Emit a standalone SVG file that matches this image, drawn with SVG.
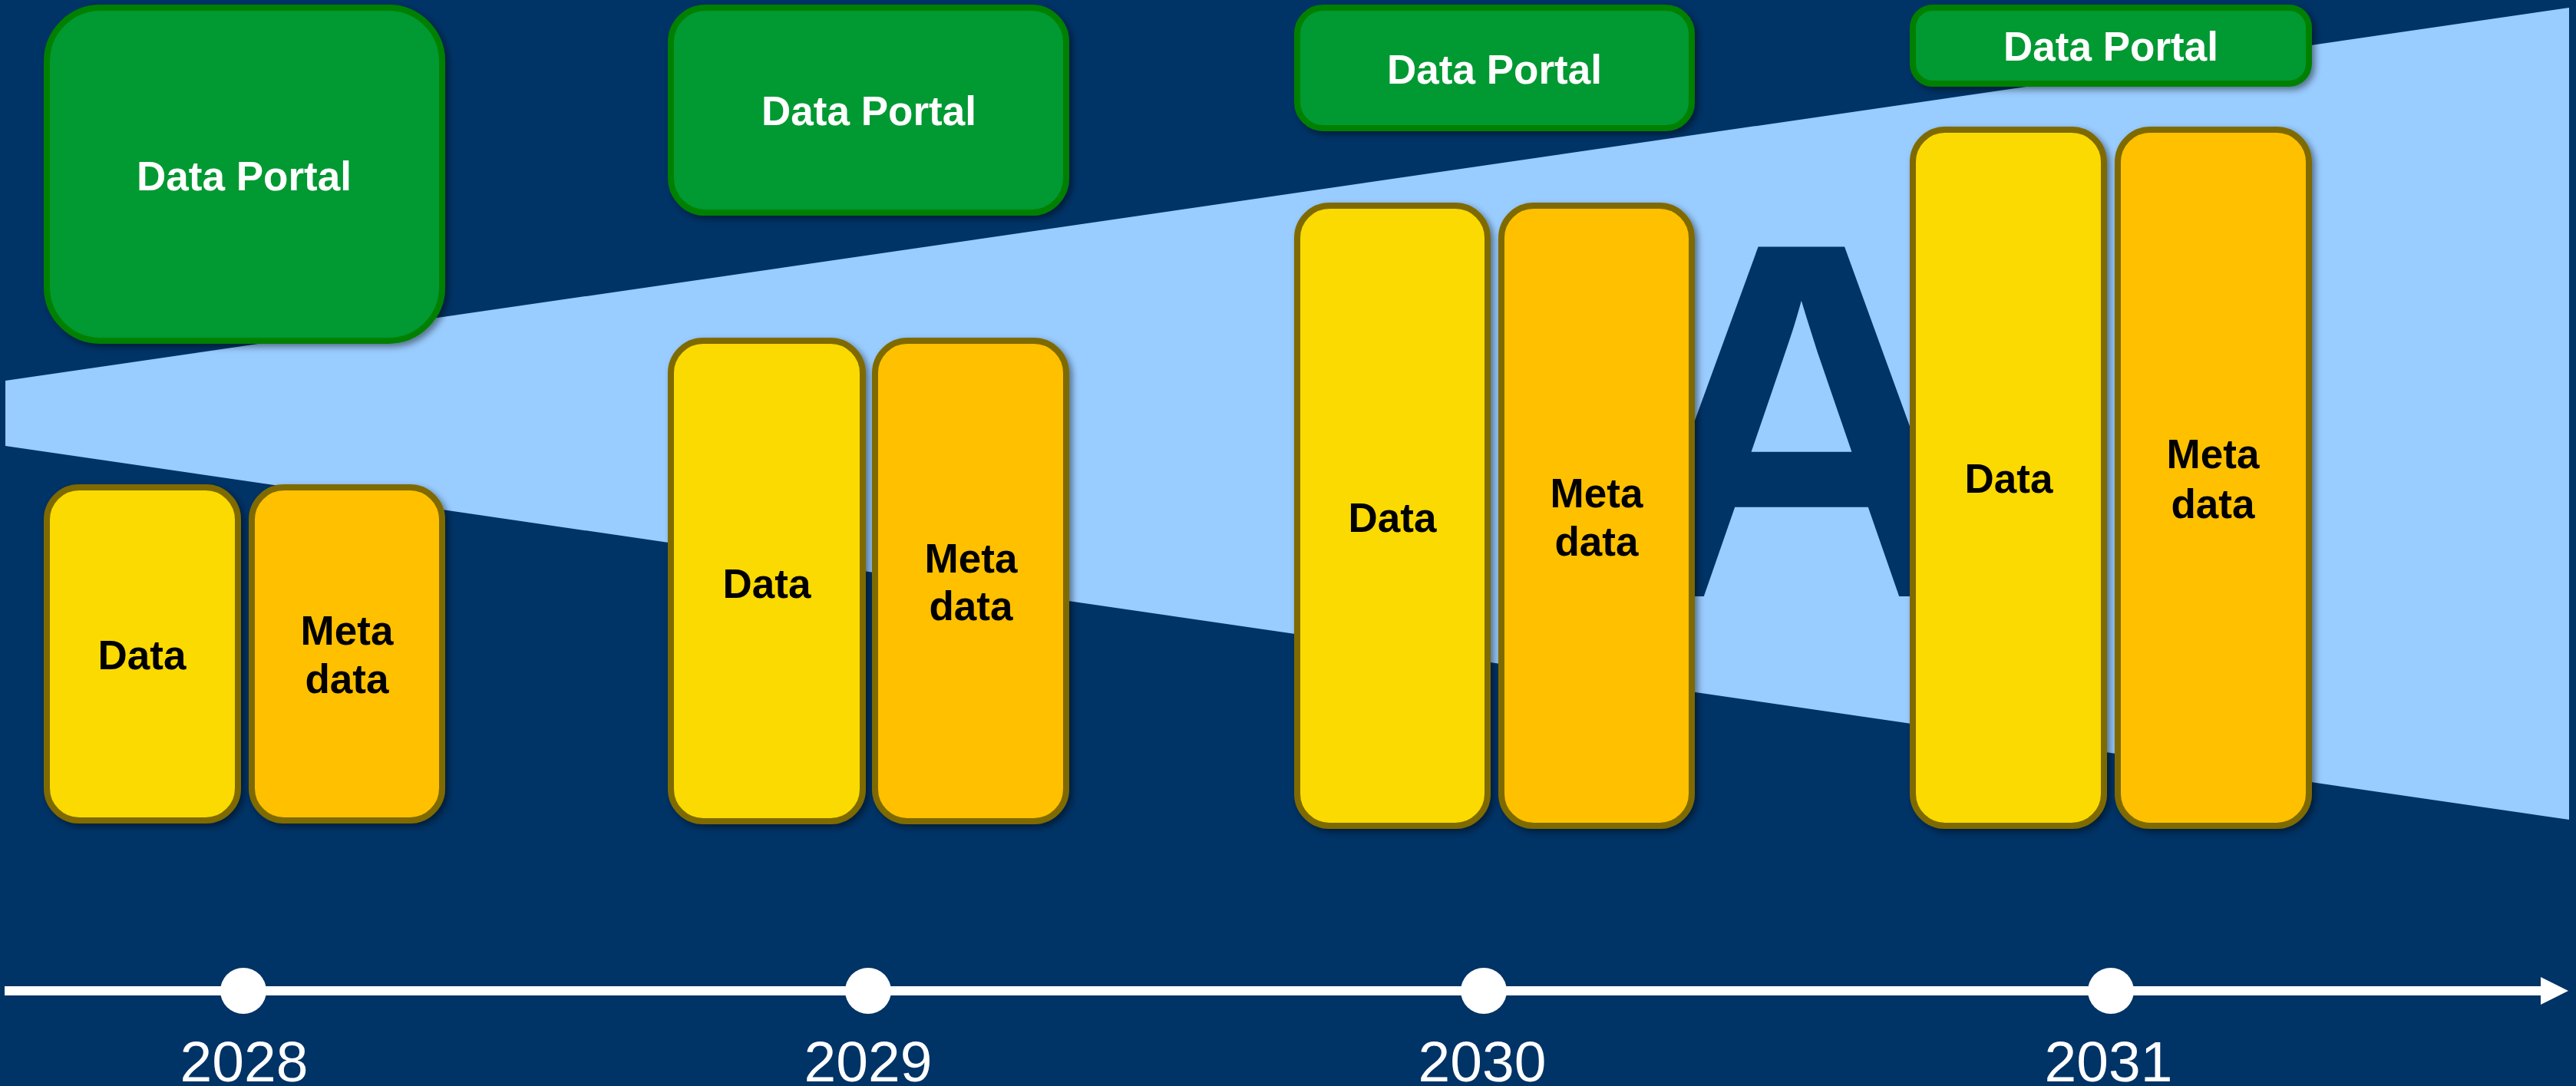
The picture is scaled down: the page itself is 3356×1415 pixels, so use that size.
<svg xmlns="http://www.w3.org/2000/svg" width="3356" height="1415" viewBox="0 0 3356 1415">
<style>
.portal{fill:#009933;stroke:#008000;stroke-width:8;filter:url(#sh)}
.data{fill:#FADA00;stroke:#7F6B00;stroke-width:8;filter:url(#sh)}
.meta{fill:#FFC000;stroke:#7F6B00;stroke-width:8;filter:url(#sh)}
.pt{font-family:"Liberation Sans",Arial,sans-serif;font-weight:bold;font-size:53px;fill:#FFFFFF;text-anchor:middle}
.bt{font-family:"Liberation Sans",Arial,sans-serif;font-weight:bold;font-size:53px;fill:#000000;text-anchor:middle}
.yr{font-family:"Liberation Sans",Arial,sans-serif;font-size:75px;fill:#FFFFFF;text-anchor:middle}
</style>
<defs>
<filter id="sh" x="-10%" y="-10%" width="130%" height="130%">
<feDropShadow dx="4" dy="4" stdDeviation="4" flood-color="#000000" flood-opacity="0.45"/>
</filter>
</defs>
<rect x="0" y="0" width="3356" height="1415" fill="#003366"/>
<polygon points="7,496 3347,10 3347,1068 7,581" fill="#99CCFF"/>
<text x="2347" y="777" font-family="Liberation Sans, Arial, sans-serif" font-weight="bold" font-size="662" fill="#003366" text-anchor="middle">A</text>

<g id="connectors">
<rect x="6" y="1285" width="3308" height="12" fill="#FFFFFF"/>
<polygon points="3310,1273 3346,1291 3310,1309" fill="#FFFFFF"/>
</g>

<g id="y2028">
<circle cx="317" cy="1291" r="30" fill="#FFFFFF"/>
<text class="yr" x="318" y="1409">2028</text>
</g>
<g id="y2029">
<circle cx="1131" cy="1291" r="30" fill="#FFFFFF"/>
<text class="yr" x="1131" y="1409">2029</text>
</g>
<g id="y2030">
<circle cx="1933" cy="1291" r="30" fill="#FFFFFF"/>
<text class="yr" x="1931" y="1409">2030</text>
</g>
<g id="y2031">
<circle cx="2750" cy="1291" r="30" fill="#FFFFFF"/>
<text class="yr" x="2747" y="1409">2031</text>
</g>

<g id="portal2028"><rect class="portal" x="61" y="10" width="515" height="434" rx="70"/><text class="pt" x="318" y="248">Data Portal</text></g>
<g id="data2028"><rect class="data" x="61" y="635" width="249" height="434" rx="42"/><text class="bt" x="185" y="872">Data</text></g>
<g id="meta2028"><rect class="meta" x="328" y="635" width="248" height="434" rx="42"/><text class="bt" x="452" y="840">Meta</text><text class="bt" x="452" y="903">data</text></g>

<g id="portal2029"><rect class="portal" x="874" y="10" width="515" height="267" rx="45"/><text class="pt" x="1132" y="163">Data Portal</text></g>
<g id="data2029"><rect class="data" x="874" y="444" width="250" height="626" rx="42"/><text class="bt" x="999" y="779">Data</text></g>
<g id="meta2029"><rect class="meta" x="1140" y="444" width="249" height="626" rx="42"/><text class="bt" x="1265" y="746">Meta</text><text class="bt" x="1265" y="808">data</text></g>

<g id="portal2030"><rect class="portal" x="1690" y="10" width="514" height="157" rx="34"/><text class="pt" x="1947" y="109">Data Portal</text></g>
<g id="data2030"><rect class="data" x="1690" y="268" width="248" height="808" rx="42"/><text class="bt" x="1814" y="693">Data</text></g>
<g id="meta2030"><rect class="meta" x="1956" y="268" width="248" height="808" rx="42"/><text class="bt" x="2080" y="661">Meta</text><text class="bt" x="2080" y="724">data</text></g>

<g id="portal2031"><rect class="portal" x="2492" y="10" width="516" height="99" rx="26"/><text class="pt" x="2750" y="79">Data Portal</text></g>
<g id="data2031"><rect class="data" x="2492" y="169" width="249" height="907" rx="42"/><text class="bt" x="2617" y="642">Data</text></g>
<g id="meta2031"><rect class="meta" x="2759" y="169" width="249" height="907" rx="42"/><text class="bt" x="2883" y="610">Meta</text><text class="bt" x="2883" y="675">data</text></g>
</svg>
